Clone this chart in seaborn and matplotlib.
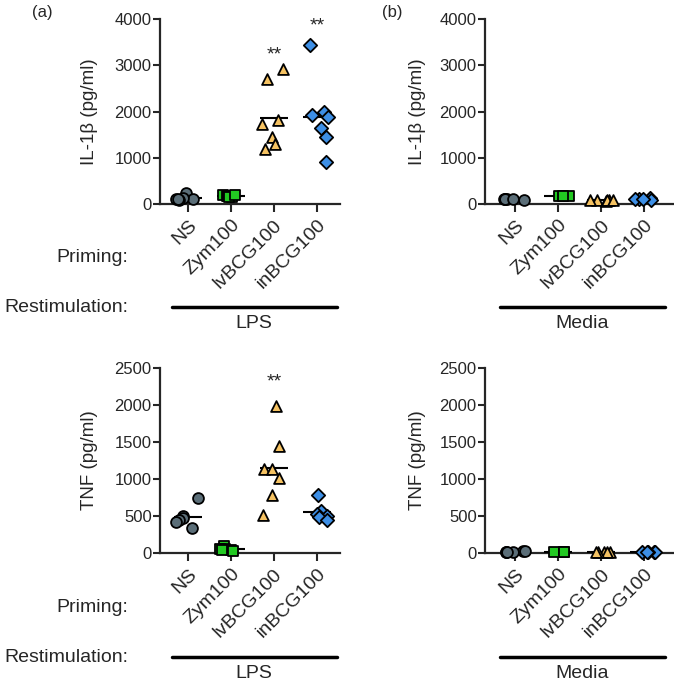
import matplotlib
matplotlib.use("Agg")
import matplotlib.pyplot as plt
from matplotlib.lines import Line2D
import seaborn as sns
import pandas as pd
import numpy as np

sns.set_style("ticks")
plt.rcParams["font.family"] = ["Liberation Sans", "DejaVu Sans"]
np.random.seed(1)

groups = ["NS", "Zym100", "lvBCG100", "inBCG100"]
markers = ["o", "s", "^", "D"]
colors = ["#5b6e78", "#22c922", "#f5c262", "#3d8fe6"]

# IL-1b, LPS restimulation
il1b_lps_ns = [230, 110, 100, 120, 90, 100]
il1b_lps_zym = [200, 180, 170, 160, 150, 190]
il1b_lps_lv = [2700, 2920, 1730, 1810, 1440, 1300, 1190]
il1b_lps_in = [3440, 1980, 1890, 1930, 1640, 1440, 910]
# IL-1b, media
il1b_med_ns = [100, 100, 105, 95, 100, 110]
il1b_med_zym = [170, 180, 165]
il1b_med_lv = [80, 75, 85, 80, 78, 82]
il1b_med_in = [130, 100, 95, 105, 110]
# TNF, LPS restimulation
tnf_lps_ns = [740, 500, 470, 440, 420, 340]
tnf_lps_zym = [100, 60, 40, 50, 30, 45]
tnf_lps_lv = [1990, 1445, 1140, 1135, 1020, 790, 520]
tnf_lps_in = [790, 570, 530, 500, 480, 450]
# TNF, media
tnf_med_ns = [20, 20, 22, 18, 20, 21]
tnf_med_zym = [20, 20, 20]
tnf_med_lv = [15, 14, 16, 15, 15]
tnf_med_in = [15, 16, 14, 15, 15]

il1b_ticks = [0, 1000, 2000, 3000, 4000]
tnf_ticks = [0, 500, 1000, 1500, 2000, 2500]

W, H = 674, 685
fig = plt.figure(figsize=(W / 100, H / 100), dpi=100)


def px_axes(left, top, right, bottom):
    return fig.add_axes([left / W, 1 - bottom / H, (right - left) / W, (bottom - top) / H])


def panel(ax, series, ticks, ylabel, stars, xlim, labelpad):
    df = pd.DataFrame({
        "group": np.repeat(groups, [len(s) for s in series]),
        "value": np.concatenate(series),
    })
    for g, m, c in zip(groups, markers, colors):
        sub = df[df["group"] == g]
        sns.stripplot(data=sub, x="group", y="value", order=groups, ax=ax,
                      marker=m, color=c, edgecolor="black", linewidth=1.3,
                      size=7.8 if m != "D" else 6.8, clip_on=False, zorder=5,
                      jitter=0.28)
    means = df.groupby("group")["value"].mean().reindex(groups)
    for i, mval in enumerate(means):
        ax.hlines(mval, i - 0.33, i + 0.33, color="black", lw=1.5, zorder=4)
    for i, ys in stars:
        ax.text(i, ys, "**", ha="center", va="center", fontsize=14)
    ax.set_ylim(ticks[0], ticks[-1])
    ax.set_yticks(ticks)
    ax.set_xlim(*xlim)
    ax.set_xlabel("")
    ax.set_ylabel(ylabel, fontsize=13.5, labelpad=labelpad)
    ax.set_xticks(range(len(groups)))
    ax.set_xticklabels(groups, rotation=45, ha="right", rotation_mode="anchor",
                       fontsize=14)
    ax.tick_params(axis="y", labelsize=12, width=1.5, length=5, pad=1)
    ax.tick_params(axis="x", width=1.5, length=6, pad=3)
    for s in ["left", "bottom"]:
        ax.spines[s].set_linewidth(1.6)
    sns.despine(ax=ax)


ax1 = px_axes(160, 19, 340, 204)
ax2 = px_axes(485, 19, 673, 204)
ax3 = px_axes(160, 368, 340, 553)
ax4 = px_axes(485, 368, 673, 553)

panel(ax1, [il1b_lps_ns, il1b_lps_zym, il1b_lps_lv, il1b_lps_in], il1b_ticks,
      "IL-1\u03b2 (pg/ml)", [(2, 3220), (3, 3860)], (-0.65, 3.54), 12)
panel(ax2, [il1b_med_ns, il1b_med_zym, il1b_med_lv, il1b_med_in], il1b_ticks,
      "IL-1\u03b2 (pg/ml)", [], (-0.7, 3.67), 10)
panel(ax3, [tnf_lps_ns, tnf_lps_zym, tnf_lps_lv, tnf_lps_in], tnf_ticks,
      "TNF (pg/ml)", [(2, 2310)], (-0.65, 3.54), 12)
panel(ax4, [tnf_med_ns, tnf_med_zym, tnf_med_lv, tnf_med_in], tnf_ticks,
      "TNF (pg/ml)", [], (-0.7, 3.67), 10)


def ftext(x, y, s, size=14, **kw):
    fig.text(x / W, 1 - y / H, s, fontsize=size, **kw)


def fline(x0, x1, y):
    fig.add_artist(Line2D([x0 / W, x1 / W], [1 - y / H, 1 - y / H],
                          color="black", lw=2.5, transform=fig.transFigure))


ftext(32, 12, "(a)", size=12, ha="left", va="center")
ftext(382, 12, "(b)", size=12, ha="left", va="center")

for yoff in [0, 350]:
    ftext(128, 258 + yoff, "Priming:", ha="right", va="center")
    ftext(128, 307 + yoff, "Restimulation:", ha="right", va="center")
    fline(172, 337, 307 + yoff)
    ftext(254, 323 + yoff, "LPS", ha="center", va="center")
    fline(500, 665, 307 + yoff)
    ftext(582, 323 + yoff, "Media", ha="center", va="center")

fig.savefig("out.png", dpi=100)
